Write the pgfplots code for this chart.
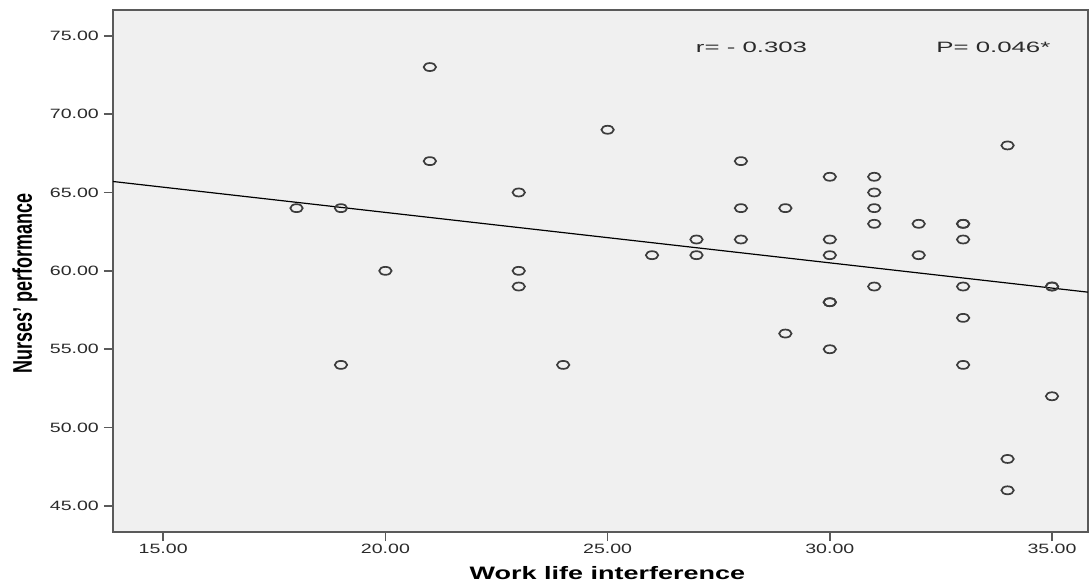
\documentclass[border=0pt]{standalone}
\usepackage{fontspec}
\setmainfont{Liberation Sans}
\usepackage{graphicx}
\usepackage{pgfplots}
\pgfplotsset{compat=1.18}
\definecolor{bgc}{HTML}{F0F0F0}
\definecolor{axc}{HTML}{5A5A5A}
\definecolor{mkc}{HTML}{3C3C3C}
\definecolor{txc}{HTML}{2A2A2A}
\begin{document}
\begin{tikzpicture}
\begin{axis}[
  scale only axis, width=975pt, height=522pt,
  xmin=13.87, xmax=35.81, ymin=43.34, ymax=76.64,
  axis background/.style={fill=bgc},
  axis line style={axc, line width=2pt},
  xtick={15,20,25,30,35}, ytick={45,50,55,60,65,70,75},
  xtick pos=left, ytick pos=left,
  tick align=outside, major tick length=9pt,
  every tick/.style={axc, line width=1.6pt},
  tick label style={font=\fontsize{13.5}{16}\selectfont, text=txc, xscale=1.45},
  /pgf/number format/.cd, fixed, fixed zerofill, precision=2, assume math mode=true, /pgfplots/.cd,
  scaled ticks=false,
  xlabel={\fontsize{18}{20}\selectfont\bfseries Work life interference},
  xlabel style={at={(axis description cs:0.507,-0.0915)}, anchor=base, inner sep=0pt, xscale=1.5},
  ylabel={\scalebox{1}[1.5]{\fontsize{18}{20}\selectfont\bfseries Nurses' performance}},
  ylabel style={at={(axis description cs:-0.0831,0.477)}, anchor=base, inner sep=0pt},
]
\addplot[only marks, mark=o, mark size=4pt, mark options={mkc, line width=1.7pt, xscale=1.55}] table {
x y
18 64
19 64
19 54
20 60
21 73
21 67
23 65
23 60
23 59
24 54
25 69
26 61
27 62
27 61
28 67
28 64
28 62
29 64
29 56
30 66
30 62
30 61
30 58
30 58
30 55
31 66
31 65
31 64
31 63
31 59
32 63
32 61
33 63
33 63
33 62
33 59
33 57
33 54
34 68
34 48
34 46
35 59
35 59
35 52
};
\addplot[black, line width=1.2pt] coordinates {(13.87,65.70) (35.81,58.64)};
\node[anchor=base west, inner sep=0pt, font=\fontsize{15}{17}\selectfont, text=txc, xscale=1.72] at (axis cs:26.98,73.90) {r= - 0.303};
\node[anchor=base west, inner sep=0pt, font=\fontsize{15}{17}\selectfont, text=txc, xscale=1.72] at (axis cs:32.39,73.90) {P= 0.046*};
\end{axis}
\path ([xshift=-113pt,yshift=-51pt]current axis.south west) rectangle ([xshift=1pt,yshift=10pt]current axis.north east);
\end{tikzpicture}
\end{document}
